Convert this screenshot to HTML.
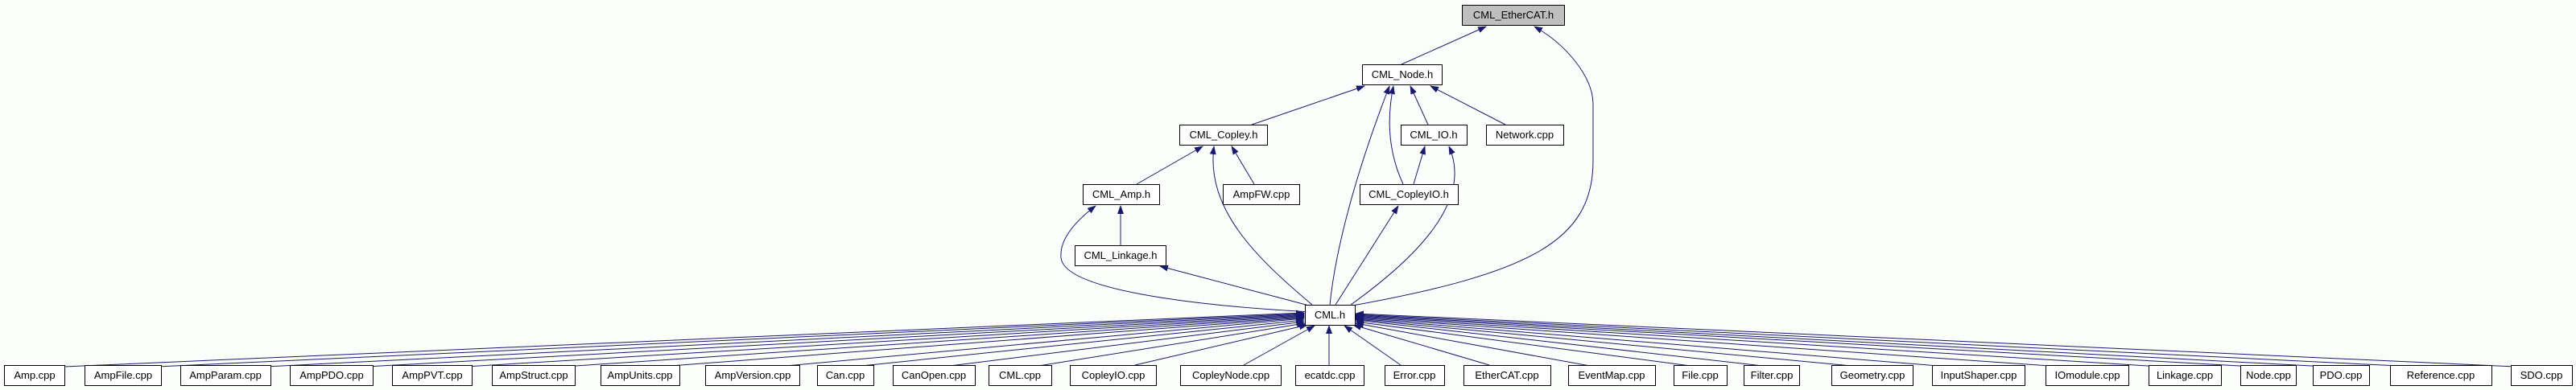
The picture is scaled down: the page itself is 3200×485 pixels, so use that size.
<!DOCTYPE html>
<html><head><meta charset="utf-8"><style>
html,body{margin:0;padding:0;background:#fcfefc;}
svg{display:block;}
text{font-family:"Liberation Sans",sans-serif;font-size:13px;fill:#000;text-anchor:middle;}
.b{fill:#fff;stroke:#000;stroke-width:1;}
.e{fill:none;stroke:#191970;stroke-width:1;marker-end:url(#a);}
</style></head><body>
<svg width="3200" height="485" viewBox="0 0 3200 485" xmlns="http://www.w3.org/2000/svg">
<defs><marker id="a" markerWidth="11" markerHeight="8" refX="10" refY="4" orient="auto" markerUnits="userSpaceOnUse"><path d="M0,0 L11,4 L0,8 z" fill="#191970"/></marker></defs>
<g>
<line class="e" x1="1741" y1="80" x2="1846" y2="33"/>
<path class="e" d="M1680,380 C1900,340 1979,300 1979,200 L1979,130 C1979,95 1945,55 1906,33"/>
<line class="e" x1="1555" y1="155" x2="1695" y2="107"/>
<line class="e" x1="1774" y1="155" x2="1752" y2="107"/>
<line class="e" x1="1870" y1="155" x2="1777" y2="107"/>
<path class="e" d="M1743,229 C1725,190 1722,150 1731,107"/>
<path class="e" d="M1652,379 C1660,300 1690,200 1726,107"/>
<line class="e" x1="1412" y1="229" x2="1494" y2="182"/>
<line class="e" x1="1558" y1="229" x2="1530" y2="182"/>
<path class="e" d="M1630,379 C1560,320 1498,260 1508,182"/>
<line class="e" x1="1756" y1="229" x2="1770" y2="182"/>
<path class="e" d="M1678,379 C1760,320 1830,250 1800,182"/>
<line class="e" x1="1659" y1="379" x2="1737" y2="256"/>
<line class="e" x1="1392" y1="305" x2="1392" y2="256"/>
<path class="e" d="M1630,388 C1480,380 1320,360 1318,320 C1316,295 1340,272 1361,256"/>
<line class="e" x1="1630" y1="381" x2="1441" y2="331"/>
<line class="e" x1="80" y1="456" x2="1620" y2="389"/>
<line class="e" x1="195" y1="456" x2="1620" y2="390"/>
<line class="e" x1="330" y1="456" x2="1620" y2="391"/>
<line class="e" x1="455" y1="456" x2="1620" y2="392"/>
<line class="e" x1="578" y1="456" x2="1620" y2="393"/>
<line class="e" x1="700" y1="456" x2="1620" y2="394"/>
<line class="e" x1="820" y1="456" x2="1620" y2="395"/>
<line class="e" x1="965" y1="456" x2="1620" y2="396"/>
<line class="e" x1="1070" y1="455" x2="1620" y2="398"/>
<line class="e" x1="1180" y1="455" x2="1620" y2="400"/>
<line class="e" x1="1290" y1="455" x2="1621" y2="402"/>
<line class="e" x1="1410" y1="454" x2="1624" y2="404"/>
<line class="e" x1="1545" y1="454" x2="1633" y2="405"/>
<line class="e" x1="1651" y1="454" x2="1651" y2="405"/>
<line class="e" x1="1740" y1="454" x2="1670" y2="405"/>
<line class="e" x1="1850" y1="454" x2="1681" y2="404"/>
<line class="e" x1="1975" y1="455" x2="1684" y2="402"/>
<line class="e" x1="2100" y1="455" x2="1684" y2="400"/>
<line class="e" x1="2190" y1="455" x2="1684" y2="398"/>
<line class="e" x1="2300" y1="455" x2="1684" y2="397"/>
<line class="e" x1="2420" y1="456" x2="1684" y2="396"/>
<line class="e" x1="2560" y1="456" x2="1684" y2="395"/>
<line class="e" x1="2685" y1="456" x2="1684" y2="394"/>
<line class="e" x1="2800" y1="456" x2="1684" y2="393"/>
<line class="e" x1="2890" y1="456" x2="1684" y2="392"/>
<line class="e" x1="3000" y1="456" x2="1684" y2="391"/>
<line class="e" x1="3125" y1="456" x2="1684" y2="390"/>
</g>
<g>
<rect x="1816.5" y="6.5" width="127" height="25" fill="#bfbfbf" stroke="#000"/><text x="1880" y="23">CML_EtherCAT.h</text>
<rect class="b" x="1692.5" y="80.5" width="99" height="25"/><text x="1742" y="97">CML_Node.h</text>
<rect class="b" x="1465.5" y="155.5" width="109" height="25"/><text x="1520" y="172">CML_Copley.h</text>
<rect class="b" x="1740.5" y="155.5" width="82" height="25"/><text x="1781" y="172">CML_IO.h</text>
<rect class="b" x="1846.5" y="155.5" width="96" height="25"/><text x="1894" y="172">Network.cpp</text>
<rect class="b" x="1345.5" y="229.5" width="95" height="25"/><text x="1393" y="246">CML_Amp.h</text>
<rect class="b" x="1519.5" y="229.5" width="95" height="25"/><text x="1567" y="246">AmpFW.cpp</text>
<rect class="b" x="1689.5" y="229.5" width="122" height="25"/><text x="1750" y="246">CML_CopleyIO.h</text>
<rect class="b" x="1335.5" y="305.5" width="113" height="25"/><text x="1392" y="322">CML_Linkage.h</text>
<rect class="b" x="1621.5" y="379.5" width="62" height="25"/><text x="1652" y="396">CML.h</text>
</g>
<g>
<rect class="b" x="5.5" y="454.5" width="75" height="25"/><text x="43" y="471">Amp.cpp</text>
<rect class="b" x="105.5" y="454.5" width="95" height="25"/><text x="153" y="471">AmpFile.cpp</text>
<rect class="b" x="224.5" y="454.5" width="112" height="25"/><text x="280" y="471">AmpParam.cpp</text>
<rect class="b" x="360.5" y="454.5" width="103" height="25"/><text x="412" y="471">AmpPDO.cpp</text>
<rect class="b" x="487.5" y="454.5" width="99" height="25"/><text x="537" y="471">AmpPVT.cpp</text>
<rect class="b" x="611.5" y="454.5" width="103" height="25"/><text x="663" y="471">AmpStruct.cpp</text>
<rect class="b" x="746.5" y="454.5" width="98" height="25"/><text x="795" y="471">AmpUnits.cpp</text>
<rect class="b" x="876.5" y="454.5" width="117" height="25"/><text x="935" y="471">AmpVersion.cpp</text>
<rect class="b" x="1015.5" y="454.5" width="70" height="25"/><text x="1050" y="471">Can.cpp</text>
<rect class="b" x="1109.5" y="454.5" width="102" height="25"/><text x="1160" y="471">CanOpen.cpp</text>
<rect class="b" x="1228.5" y="454.5" width="78" height="25"/><text x="1267" y="471">CML.cpp</text>
<rect class="b" x="1329.5" y="454.5" width="107" height="25"/><text x="1383" y="471">CopleyIO.cpp</text>
<rect class="b" x="1466.5" y="454.5" width="125" height="25"/><text x="1529" y="471">CopleyNode.cpp</text>
<rect class="b" x="1609.5" y="454.5" width="85" height="25"/><text x="1652" y="471">ecatdc.cpp</text>
<rect class="b" x="1720.5" y="454.5" width="74" height="25"/><text x="1757" y="471">Error.cpp</text>
<rect class="b" x="1818.5" y="454.5" width="108" height="25"/><text x="1872" y="471">EtherCAT.cpp</text>
<rect class="b" x="1948.5" y="454.5" width="108" height="25"/><text x="2002" y="471">EventMap.cpp</text>
<rect class="b" x="2079.5" y="454.5" width="66" height="25"/><text x="2112" y="471">File.cpp</text>
<rect class="b" x="2166.5" y="454.5" width="69" height="25"/><text x="2201" y="471">Filter.cpp</text>
<rect class="b" x="2275.5" y="454.5" width="101" height="25"/><text x="2326" y="471">Geometry.cpp</text>
<rect class="b" x="2400.5" y="454.5" width="115" height="25"/><text x="2458" y="471">InputShaper.cpp</text>
<rect class="b" x="2541.5" y="454.5" width="103" height="25"/><text x="2593" y="471">IOmodule.cpp</text>
<rect class="b" x="2669.5" y="454.5" width="90" height="25"/><text x="2714" y="471">Linkage.cpp</text>
<rect class="b" x="2783.5" y="454.5" width="69" height="25"/><text x="2818" y="471">Node.cpp</text>
<rect class="b" x="2873.5" y="454.5" width="70" height="25"/><text x="2908" y="471">PDO.cpp</text>
<rect class="b" x="2969.5" y="454.5" width="126" height="25"/><text x="3032" y="471">Reference.cpp</text>
<rect class="b" x="3119.5" y="454.5" width="76" height="25"/><text x="3157" y="471">SDO.cpp</text>
</g>
</svg>
</body></html>
